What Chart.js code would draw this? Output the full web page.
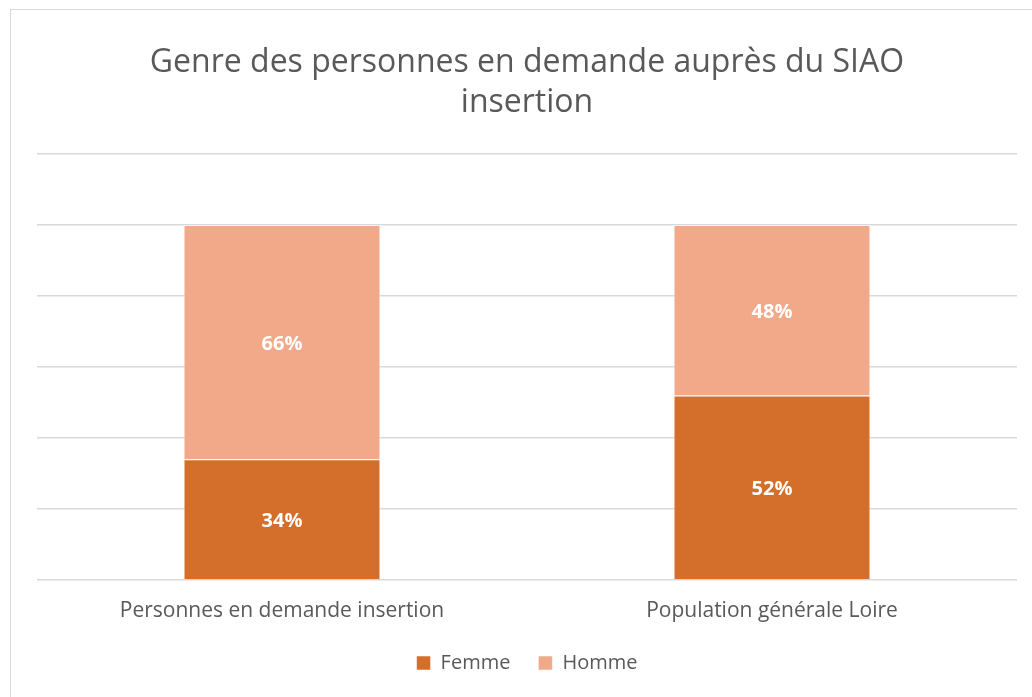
<!DOCTYPE html>
<html lang="fr">
<head>
<meta charset="UTF-8">
<title>Genre des personnes en demande auprès du SIAO insertion</title>
<script src="https://cdn.jsdelivr.net/npm/chart.js"></script>
<style>
  html, body { margin: 0; padding: 0; background: #fff; overflow: hidden; }
  #wrap { position: relative; width: 1032px; height: 697px; }
</style>
</head>
<body>
<div id="wrap"><canvas id="genreChart"></canvas></div>
<script>
    // Données
    const categories = ['Personnes en demande insertion', 'Population générale Loire'];
    const femme = [34, 52];
    const homme = [66, 48];
    const titre = ['Genre des personnes en demande auprès du SIAO', 'insertion'];

    const police = "'Open Sans', sans-serif";
    const gris = '#595959';

    // Cadre gris autour du graphique
    const cadre = {
        id: 'cadre',
        beforeDraw(chart) {
            const ctx = chart.ctx;
            ctx.save();
            ctx.strokeStyle = '#d9d9d9';
            ctx.lineWidth = 1;
            ctx.strokeRect(10.5, 9.5, 1040, 700);
            ctx.restore();
        }
    };

    // Étiquettes de valeur au centre de chaque segment
    const etiquettes = {
        id: 'etiquettes',
        afterDatasetsDraw(chart) {
            const ctx = chart.ctx;
            ctx.save();
            ctx.fillStyle = '#ffffff';
            ctx.font = "bold 20px " + police;
            ctx.textAlign = 'center';
            ctx.textBaseline = 'middle';
            chart.data.datasets.forEach((ds, i) => {
                chart.getDatasetMeta(i).data.forEach((bar, j) => {
                    const y = (bar.y + bar.base) / 2 + 2;
                    ctx.fillText(ds.data[j] + '%', bar.x, y);
                });
            });
            ctx.restore();
        }
    };

    const ctx = document.getElementById('genreChart').getContext('2d');
    new Chart(ctx, {
        type: 'bar',
        data: {
            labels: categories,
            datasets: [
                {
                    label: 'Femme',
                    data: femme,
                    backgroundColor: '#d46f2b',
                    borderColor: 'rgba(255,255,255,0.5)',
                    borderWidth: 1,
                    categoryPercentage: 1,
                    barPercentage: 0.402
                },
                {
                    label: 'Homme',
                    data: homme,
                    backgroundColor: '#f2a98a',
                    borderColor: 'rgba(255,255,255,0.5)',
                    borderWidth: 1,
                    categoryPercentage: 1,
                    barPercentage: 0.402
                }
            ]
        },
        options: {
            responsive: true,
            maintainAspectRatio: false,
            animation: false,
            layout: { padding: { left: 37, right: 15, top: 10, bottom: 14 } },
            scales: {
                x: {
                    stacked: true,
                    grid: { display: false, drawTicks: false },
                    border: { display: false },
                    ticks: { color: gris, padding: 18, font: { family: police, size: 21 } },
                    afterFit(scale) { scale.height = 45; }
                },
                y: {
                    stacked: true,
                    min: 0,
                    max: 120,
                    ticks: { display: false, stepSize: 20 },
                    grid: { color: '#d9d9d9', lineWidth: 1.5, drawTicks: false },
                    border: { display: false }
                }
            },
            plugins: {
                title: {
                    display: true,
                    text: titre,
                    color: gris,
                    font: { family: police, size: 32, weight: 'normal', lineHeight: 1.25 },
                    padding: { top: 33, bottom: 31 }
                },
                legend: {
                    position: 'bottom',
                    labels: {
                        color: gris,
                        boxWidth: 14,
                        boxHeight: 14,
                        padding: 28,
                        font: { family: police, size: 20 }
                    }
                },
                tooltip: { enabled: false }
            }
        },
        plugins: [cadre, etiquettes]
    });
</script>
</body>
</html>
